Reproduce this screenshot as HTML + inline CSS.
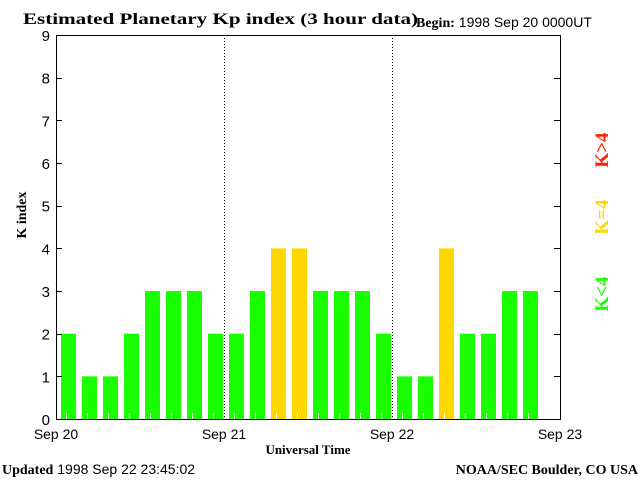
<!DOCTYPE html>
<html><head><meta charset="utf-8"><style>
body{margin:0;background:#fff;width:640px;height:480px;overflow:hidden}
svg text{font-family:"Liberation Sans",sans-serif}
.serif{font-family:"Liberation Serif",serif;font-weight:bold}
</style></head><body>
<svg id="chart" width="640" height="480">
<text class="serif" x="23" y="24" font-size="16" textLength="395" lengthAdjust="spacingAndGlyphs">Estimated Planetary Kp index (3 hour data)</text>
<text x="416" y="27" font-size="14"><tspan class="serif">Begin:</tspan> 1998 Sep 20 0000UT</text>
<text class="serif" x="26" y="215" font-size="14" transform="rotate(-90 26 215)" text-anchor="middle">K index</text>
<text class="serif" x="308" y="454" font-size="13" text-anchor="middle">Universal Time</text>
<text x="2" y="474" font-size="14"><tspan class="serif">Updated</tspan> 1998 Sep 22 23:45:02</text>
<text class="serif" x="638" y="474" font-size="14" text-anchor="end">NOAA/SEC Boulder, CO USA</text>
<text class="serif" x="608" y="150" font-size="19" fill="#ff2200" transform="rotate(-90 608 150)" text-anchor="middle">K&gt;4</text>
<text class="serif" x="608" y="217" font-size="19" fill="#ffd700" transform="rotate(-90 608 217)" text-anchor="middle">K=4</text>
<text class="serif" x="608" y="294" font-size="19" fill="#1aff00" transform="rotate(-90 608 294)" text-anchor="middle">K&lt;4</text>
<g id="plot"></g>
</svg>
<script>
const kpValues=[2,1,1,2,3,3,3,2, 2,3,4,4,3,3,3,2, 1,1,4,2,2,3,3];
const dayLabels=["Sep 20","Sep 21","Sep 22","Sep 23"];
const yTicks=[0,1,2,3,4,5,6,7,8,9];
const L=56,R=560,T=35,B=419;
const xs=i=>L+(R-L)*i/24;
const ys=k=>B-(B-T)*k/9;
const g=document.getElementById('plot');
const NS="http://www.w3.org/2000/svg";
function mk(t,a){const e=document.createElementNS(NS,t);for(const k in a)e.setAttribute(k,a[k]);g.appendChild(e);return e;}
kpValues.forEach((v,i)=>{
 const c=v>4?"#ff2200":v==4?"#ffd700":"#1aff00";
 const r=mk('rect',{x:xs(i)+5,y:ys(v),width:15,height:B-ys(v),fill:c});
 
 
 const t=mk('line',{x1:xs(i)+10.5,x2:xs(i)+10.5,y1:B-6,y2:B,stroke:'#fff'});
 
 
});
[1,2].forEach(d=>{const l=mk('line',{x1:xs(d*8)+.5,x2:xs(d*8)+.5,y1:T,y2:B,stroke:'#000','stroke-dasharray':'1,2'});
 
 });
const f=mk('rect',{x:L+.5,y:T+.5,width:R-L,height:B-T,fill:'none',stroke:'#000'});


yTicks.forEach(k=>{
 const y=Math.round(ys(k))+.5;
 const a=mk('line',{x1:L,x2:L+6,y1:y,y2:y,stroke:'#000'});
 
 
 const b=mk('line',{x1:R-6,x2:R,y1:y,y2:y,stroke:'#000'});
 
 
 const t=mk('text',{x:L-6,y:ys(k)+6,'font-size':15,'text-anchor':'end'});
 t.textContent=k;
 
 
});
dayLabels.forEach((s,d)=>{
 const t=mk('text',{x:xs(d*8),y:439,'font-size':14,'text-anchor':'middle'});
 t.textContent=s;
 
 
});
</script>
</body></html>
